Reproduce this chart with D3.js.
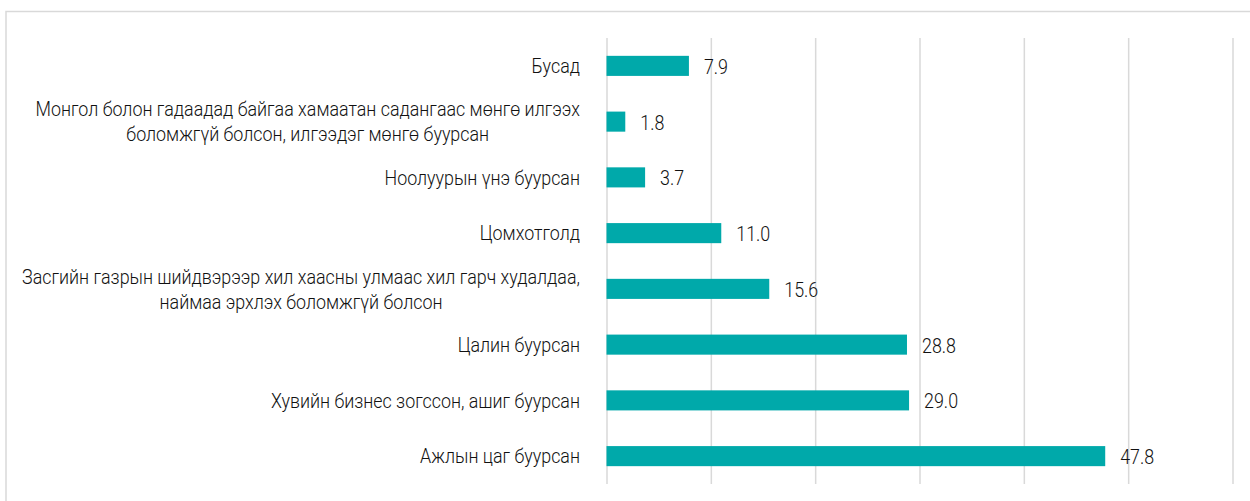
<!DOCTYPE html>
<html>
<head>
<meta charset="utf-8">
<script src="https://cdn.jsdelivr.net/npm/d3@7"></script>
<style>
  html, body { margin: 0; padding: 0; background: #fff; }
  svg { display: block; }
  text { font-family: "Roboto", "Noto Sans", sans-serif; font-weight: 300; fill: #111; }
</style>
</head>
<body>
<svg id="chart" width="1250" height="501"></svg>
<script>
// Reasons (top to bottom) and their shares, %
const categories = [
  ["Бусад"],
  ["Монгол болон гадаадад байгаа хамаатан садангаас мөнгө илгээх", "боломжгүй болсон, илгээдэг мөнгө буурсан"],
  ["Ноолуурын үнэ буурсан"],
  ["Цомхотголд"],
  ["Засгийн газрын шийдвэрээр хил хаасны улмаас хил гарч худалдаа,", "наймаа эрхлэх боломжгүй болсон"],
  ["Цалин буурсан"],
  ["Хувийн бизнес зогссон, ашиг буурсан"],
  ["Ажлын цаг буурсан"]
];
const values = [7.9, 1.8, 3.7, 11.0, 15.6, 28.8, 29.0, 47.8];
const gridTicks = [0, 10, 20, 30, 40, 50, 60];

// Condensed look: glyphs squeezed horizontally
const fontSize = 20;
const squeeze = 0.893;

const svg = d3.select("#chart");

// Outer frame of the chart area
svg.append("rect")
  .attr("x", 6).attr("y", 11.5)
  .attr("width", 1260).attr("height", 500)
  .attr("fill", "none")
  .attr("stroke", "#d9d9d9")
  .attr("stroke-width", 1.5);

const plot = { left: 606.5, right: 1232.5, top: 38, bottom: 484 };

const x = d3.scaleLinear().domain([0, 60]).range([plot.left, plot.right]);
const y = d3.scaleBand()
  .domain(d3.range(categories.length))
  .range([plot.top, plot.bottom])
  .paddingInner(0.64)
  .paddingOuter(0.32);

// Vertical gridlines
const grid = d3.axisBottom(x)
  .tickValues(gridTicks)
  .tickSize(plot.bottom - plot.top)
  .tickFormat("");
const gGrid = svg.append("g")
  .attr("transform", `translate(0,${plot.top})`)
  .call(grid);
gGrid.select(".domain").remove();
gGrid.selectAll(".tick line")
  .attr("stroke", "#d9d9d9")
  .attr("stroke-width", 1.5);

// Bars
svg.append("g").selectAll("rect")
  .data(values)
  .join("rect")
  .attr("x", x(0))
  .attr("y", (d, i) => y(i))
  .attr("width", d => x(d) - x(0))
  .attr("height", y.bandwidth())
  .attr("fill", "#00a9aa");

// Value labels
svg.append("g").selectAll("text")
  .data(values)
  .join("text")
  .attr("transform", (d, i) => `translate(${x(d) + 15},${y(i) + y.bandwidth() / 2}) scale(${squeeze},1)`)
  .attr("dy", "0.4em")
  .attr("font-size", fontSize)
  .text(d => d.toFixed(1));

// Category labels: right edge at a fixed x, multiple lines centred within the block
const labelRight = 580;
const lineGap = 25;
const gLabels = svg.append("g");
categories.forEach((lines, i) => {
  const cy = y(i) + y.bandwidth() / 2;
  const t = gLabels.append("text")
    .attr("font-size", fontSize)
    .attr("text-anchor", "middle");
  const spans = lines.map((s, k) => t.append("tspan")
    .attr("y", (k - (lines.length - 1) / 2) * lineGap)
    .attr("dy", "0.36em")
    .text(s));
  const maxW = d3.max(spans, sp => sp.node().getComputedTextLength());
  spans.forEach(sp => sp.attr("x", -maxW / 2));
  t.attr("transform", `translate(${labelRight},${cy}) scale(${squeeze},1)`);
});
</script>
</body>
</html>
